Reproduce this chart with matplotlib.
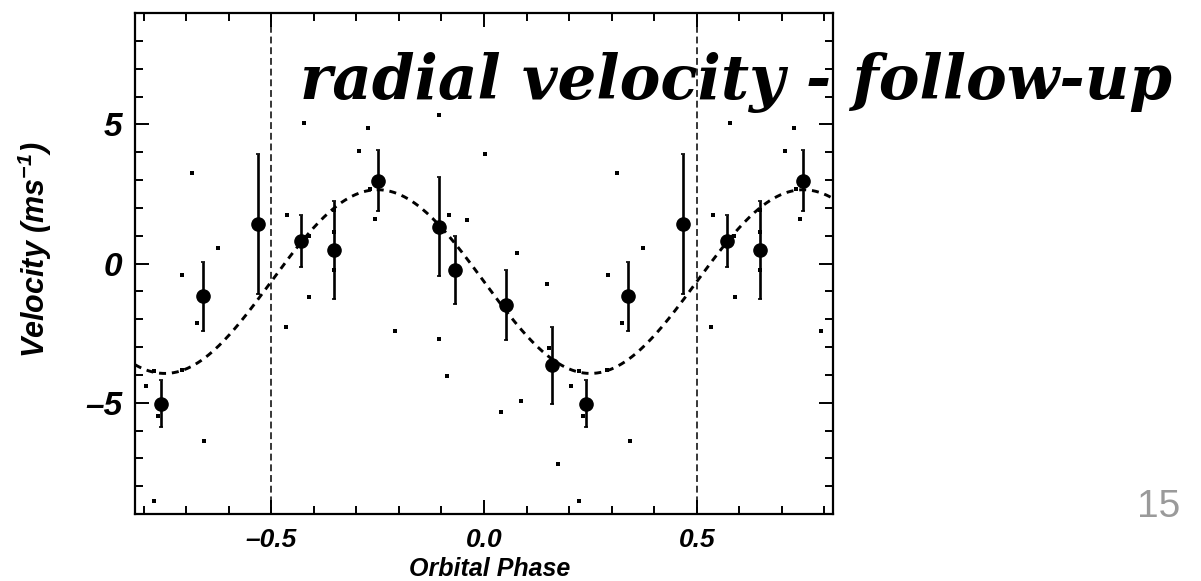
import numpy as np
import matplotlib.pyplot as plt
from matplotlib.ticker import MultipleLocator

# binned radial velocities (phase folded into [-0.5, 0.5))
bin_phase = [-0.430, -0.352, -0.250, -0.105, -0.069, 0.052, 0.159, 0.240, 0.339, 0.468]
bin_vel = [0.81, 0.48, 2.97, 1.32, -0.22, -1.50, -3.66, -5.04, -1.18, 1.41]
bin_err = [0.94, 1.75, 1.09, 1.77, 1.22, 1.26, 1.38, 0.85, 1.24, 2.52]

# individual measurements (same folding)
raw_phase = [-0.466, -0.463, -0.422, -0.412, -0.411, -0.352, -0.352, -0.352,
             -0.293, -0.272, -0.267, -0.257, -0.209, -0.106, -0.105, -0.086,
             -0.083, -0.041, 0.002, 0.039, 0.077, 0.088, 0.149, 0.152,
             0.174, 0.205, 0.224, 0.224, 0.233, 0.290, 0.291, 0.313,
             0.325, 0.343, 0.374]
raw_vel = [-2.28, 1.74, 5.04, 1.00, -1.22, 1.92, 1.14, -0.22,
           4.05, 4.87, 2.66, 1.59, -2.44, 5.33, -2.70, -4.04,
           1.76, 1.56, 3.92, -5.34, 0.38, -4.95, -0.72, -3.03,
           -7.19, -4.40, -3.87, -8.54, -5.48, -3.84, -0.40, 3.26,
           -2.12, -6.39, 0.54]

# sine fit to the orbit
fit_K = 3.3
fit_gamma = -0.65
fit_phase_max = -0.25

x_ticks = [-0.5, 0.0, 0.5]
y_ticks = [-5, 0, 5]
title = "radial velocity - follow-up"
page_number = "15"

plt.rcParams['mathtext.fontset'] = 'custom'
plt.rcParams['mathtext.rm'] = 'Liberation Sans:bold:italic'
plt.rcParams['mathtext.it'] = 'Liberation Sans:bold:italic'

W, H = 1201, 581
fig = plt.figure(figsize=(W / 100, H / 100), dpi=100)
ax = fig.add_axes([135 / W, 1 - 514 / H, 698 / W, 501 / H])

# repeat the folded data one cycle either side
for shift in (-1, 0, 1):
    ax.plot(np.array(raw_phase) + shift, raw_vel, 's', color='black', ms=3.5, mew=0)
    ax.errorbar(np.array(bin_phase) + shift, bin_vel, yerr=bin_err, fmt='o',
                color='black', ms=9.5, elinewidth=1.9, capsize=1.5, capthick=1.2)

ph = np.linspace(-0.82, 0.82, 400)
ax.plot(ph, fit_gamma + fit_K * np.cos(2 * np.pi * (ph - fit_phase_max)),
        color='black', lw=2.1, dashes=(2.4, 2.0))

for xv in (-0.5, 0.5):
    ax.axvline(xv, color='black', lw=1.1, dashes=(4.5, 2.5))

ax.set_xlim(-0.82, 0.82)
ax.set_ylim(-9, 9)
ax.set_xticks(x_ticks)
ax.set_xticklabels([f"{t:.1f}".replace('-', '\u2013') for t in x_ticks])
ax.set_yticks(y_ticks)
ax.set_yticklabels([str(t).replace('-', '\u2013') for t in y_ticks])
ax.xaxis.set_minor_locator(MultipleLocator(0.1))
ax.yaxis.set_minor_locator(MultipleLocator(1))
ax.tick_params(which='both', direction='in', top=True, right=True, width=1.4)
ax.tick_params(which='major', length=10)
ax.tick_params(which='minor', length=5.5)
ax.tick_params(axis='x', pad=10)
ax.tick_params(axis='y', pad=9)
for lab in ax.get_xticklabels():
    lab.set_fontfamily('Liberation Sans')
    lab.set_fontweight('bold')
    lab.set_fontstyle('italic')
    lab.set_fontsize(19)
for lab in ax.get_yticklabels():
    lab.set_fontfamily('Liberation Sans')
    lab.set_fontweight('bold')
    lab.set_fontstyle('italic')
    lab.set_fontsize(24)
for sp in ax.spines.values():
    sp.set_linewidth(1.6)

fig.text(35 / W, 1 - 250 / H, r"Velocity (ms$^{-1}$)", rotation=90,
         ha='center', va='center', fontsize=22, family='Liberation Sans',
         weight='bold', style='italic')
fig.text(490 / W, 0.0, "Orbital Phase", ha='center', va='bottom',
         fontsize=18, family='Liberation Sans', weight='bold', style='italic')

fig.text(300 / W, 1 - 99 / H, title, ha='left', va='baseline', fontsize=44,
         family='DejaVu Serif', weight='bold', style='italic')
fig.text(1180 / W, 1 - 517 / H, page_number, ha='right', va='baseline',
         fontsize=28, family='Liberation Sans', color='#9a9a9a')

fig.savefig('out.png', dpi=100)
